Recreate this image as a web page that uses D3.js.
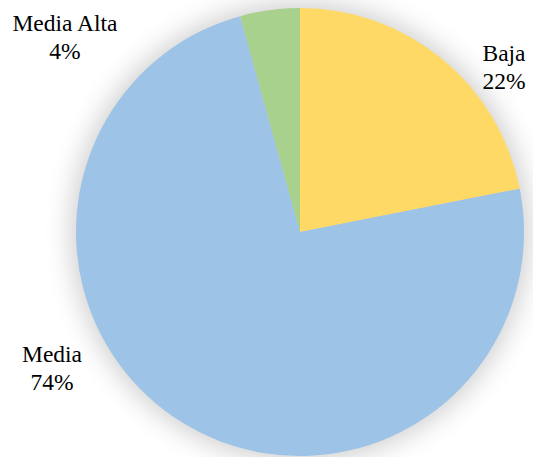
<!DOCTYPE html>
<html>
<head>
<meta charset="utf-8">
<script src="https://cdn.jsdelivr.net/npm/d3@7"></script>
<style>
  html, body { margin: 0; padding: 0; background: #fff; }
  svg { display: block; }
  .label { font-family: 'Liberation Serif', 'Times New Roman', serif; font-size: 23.5px; }
</style>
</head>
<body>
<div id="chart"></div>
<script>
// chart data (shares in %)
const categories = [ 'Baja', 'Media', 'Media Alta' ];
const values = [ 21.9, 73.8, 4.3 ];
const colors = [ '#FFD966', '#9DC3E6', '#A9D18E' ];

// label placement (first baseline, relative to pie centre), as Excel laid them out
const labelOffsets = [ [ 204, -171 ], [ -248, 130 ], [ -235, -201 ] ];

const width = 533;
const height = 457;
const cx = 300;
const cy = 232;
const radius = 224;

const svg = d3.select( '#chart' )
	.append( 'svg' )
	.attr( 'width', width )
	.attr( 'height', height );

const defs = svg.append( 'defs' );
const glow = defs.append( 'filter' )
	.attr( 'id', 'glow' )
	.attr( 'x', '-30%' ).attr( 'y', '-30%' )
	.attr( 'width', '160%' ).attr( 'height', '160%' );
glow.append( 'feGaussianBlur' ).attr( 'stdDeviation', 14 );

const g = svg.append( 'g' ).attr( 'transform', `translate(${ cx },${ cy })` );

// soft shadow around the pie
g.append( 'circle' )
	.attr( 'r', radius + 4 )
	.attr( 'fill', '#000' )
	.attr( 'opacity', 0.2 )
	.attr( 'filter', 'url(#glow)' );

const pie = d3.pie().sort( null ).value( ( d ) => d );
const arc = d3.arc().innerRadius( 0 ).outerRadius( radius );
const color = d3.scaleOrdinal().domain( categories ).range( colors );

g.selectAll( 'path.slice' )
	.data( pie( values ) )
	.enter()
	.append( 'path' )
	.attr( 'class', 'slice' )
	.attr( 'd', arc )
	.attr( 'fill', ( d, i ) => color( categories[ i ] ) );

const total = d3.sum( values );
const labels = g.selectAll( 'text.label' )
	.data( categories )
	.enter()
	.append( 'text' )
	.attr( 'class', 'label' )
	.attr( 'text-anchor', 'middle' )
	.attr( 'fill', '#000' )
	.attr( 'transform', ( d, i ) => `translate(${ labelOffsets[ i ][ 0 ] },${ labelOffsets[ i ][ 1 ] })` );

labels.append( 'tspan' )
	.attr( 'x', 0 )
	.attr( 'y', 0 )
	.text( ( d ) => d );

labels.append( 'tspan' )
	.attr( 'x', 0 )
	.attr( 'y', 27.7 )
	.text( ( d, i ) => `${ Math.round( values[ i ] / total * 100 ) }%` );
</script>
</body>
</html>
